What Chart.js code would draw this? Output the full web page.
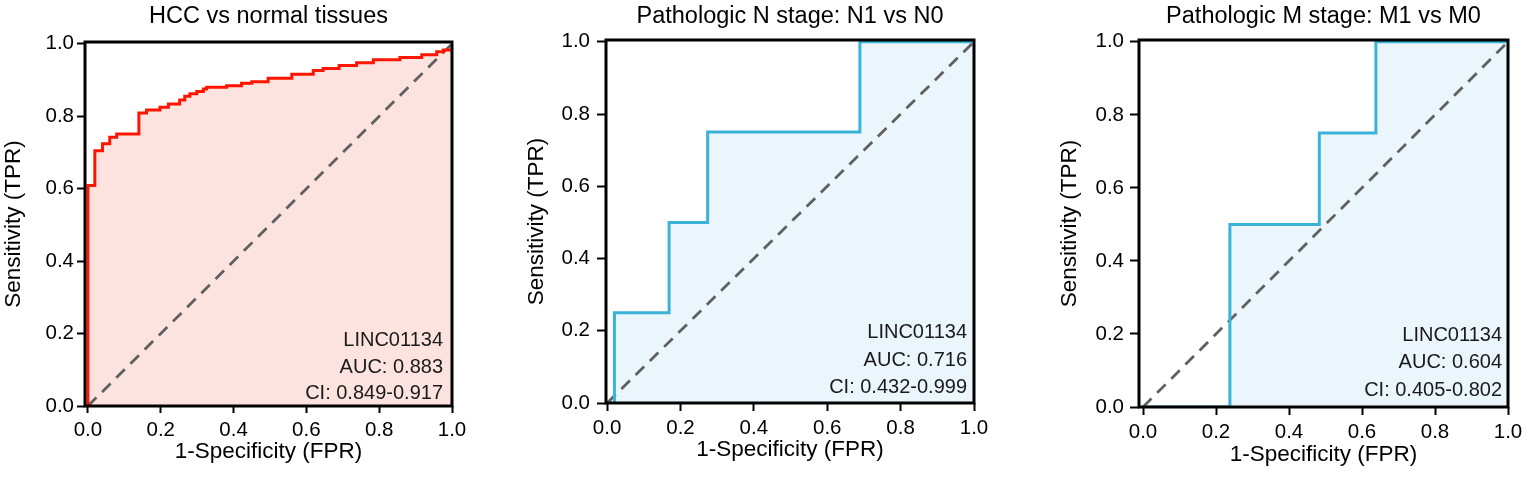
<!DOCTYPE html>
<html>
<head>
<meta charset="utf-8">
<script src="https://cdn.jsdelivr.net/npm/chart.js@4/dist/chart.umd.min.js"></script>
<style>
  body { margin: 0; background: #fff; }
  .box { position: absolute; top: 0; height: 480px; }
</style>
</head>
<body>
<div class="box" style="left:0px;width:474px"><canvas id="rocHcc"></canvas></div>
<div class="box" style="left:500px;width:500px"><canvas id="rocN"></canvas></div>
<div class="box" style="left:1020px;width:515px"><canvas id="rocM"></canvas></div>
<script>
// ROC points (1-specificity, sensitivity)
const hccFpr = [0, 0, 0.019, 0.040, 0.060, 0.079, 0.140, 0.161, 0.198, 0.221, 0.252, 0.266, 0.280, 0.299, 0.317, 0.326, 0.381, 0.422, 0.450, 0.495, 0.560, 0.619, 0.646, 0.690, 0.738, 0.784, 0.857, 0.917, 0.958, 0.976, 1.0];
const hccTpr = [0, 0.609, 0.705, 0.724, 0.742, 0.751, 0.809, 0.817, 0.825, 0.834, 0.845, 0.855, 0.862, 0.868, 0.875, 0.880, 0.884, 0.891, 0.895, 0.905, 0.916, 0.926, 0.932, 0.940, 0.948, 0.956, 0.962, 0.970, 0.978, 0.983, 0.983];

const nFpr = [0, 0.02, 0.169, 0.274, 0.689, 1.0];
const nTpr = [0, 0.25, 0.5, 0.75, 1.0, 1.0];

const mFpr = [0, 0.238, 0.483, 0.638, 1.0];
const mTpr = [0, 0.5, 0.75, 1.0, 1.0];

const diagX = [0, 1];
const diagY = [0, 1];

const tickVals = [0, 0.2, 0.4, 0.6, 0.8, 1.0];

const titles = ["HCC vs normal tissues", "Pathologic N stage: N1 vs N0", "Pathologic M stage: M1 vs M0"];
const xTitle = "1-Specificity (FPR)";
const yTitle = "Sensitivity (TPR)";
const geneName = "LINC01134";
const aucText = ["AUC: 0.883", "AUC: 0.716", "AUC: 0.604"];
const ciText = ["CI: 0.849-0.917", "CI: 0.432-0.999", "CI: 0.405-0.802"];

const FONT = "'Liberation Sans', Arial, sans-serif";

function toPoints(xs, ys) {
  return xs.map((x, i) => ({ x: x, y: ys[i] }));
}

// black box round the plot area, drawn over the curves like the original
const framePlugin = {
  id: 'frame',
  afterDatasetsDraw(chart) {
    const a = chart.chartArea;
    const ctx = chart.ctx;
    ctx.save();
    ctx.strokeStyle = '#000';
    ctx.lineWidth = 3;
    ctx.strokeRect(a.left, a.top, a.right - a.left, a.bottom - a.top);
    ctx.restore();
  }
};

// LINC01134 / AUC / CI text in lower right corner
const notePlugin = {
  id: 'note',
  afterDatasetsDraw(chart, args, opts) {
    const a = chart.chartArea;
    const ctx = chart.ctx;
    ctx.save();
    ctx.font = '20px ' + FONT;
    ctx.fillStyle = '#1a1a1a';
    ctx.textAlign = 'right';
    ctx.textBaseline = 'middle';
    opts.lines.forEach((t, i) => {
      ctx.fillText(t, a.right - opts.right, a.bottom - opts.offsets[i]);
    });
    ctx.restore();
  }
};

function makeRoc(id, idx, xs, ys, lineColor, fillColor, lay) {
  return new Chart(document.getElementById(id), {
    type: 'scatter',
    data: {
      datasets: [{
        data: toPoints(xs, ys),
        showLine: true,
        stepped: 'before',
        borderColor: lineColor,
        borderWidth: 3,
        backgroundColor: fillColor,
        fill: 'origin',
        pointRadius: 0
      }, {
        data: toPoints(diagX, diagY),
        showLine: true,
        borderColor: '#606060',
        borderWidth: 2.8,
        borderDash: [12, 8],
        pointRadius: 0,
        fill: false
      }]
    },
    options: {
      responsive: true,
      maintainAspectRatio: false,
      animation: false,
      layout: { padding: lay.padding },
      plugins: {
        legend: { display: false },
        tooltip: { enabled: false },
        filler: { drawTime: 'beforeDatasetsDraw' },
        title: {
          display: true,
          text: titles[idx],
          fullSize: false,
          color: '#000',
          font: { family: FONT, size: 23.5, weight: 'normal' },
          padding: { top: 2, bottom: lay.titleGap }
        },
        note: {
          lines: [geneName, aucText[idx], ciText[idx]],
          right: lay.noteRight,
          offsets: lay.noteOffsets
        }
      },
      scales: {
        x: {
          type: 'linear',
          min: lay.xMin,
          max: 1,
          afterBuildTicks: s => { s.ticks = tickVals.map(v => ({ value: v })); },
          afterFit: s => { s.height = lay.xHeight; },
          border: { display: false },
          grid: { drawOnChartArea: false, drawTicks: true, tickLength: lay.xTick, tickColor: '#000', tickWidth: 2 },
          ticks: {
            color: '#000',
            padding: 5,
            font: { family: FONT, size: 20.5 },
            callback: v => v.toFixed(1)
          },
          title: {
            display: true,
            text: xTitle,
            color: '#000',
            padding: 0,
            font: { family: FONT, size: 22.5 }
          }
        },
        y: {
          type: 'linear',
          min: 0,
          max: 1.005,
          afterBuildTicks: s => { s.ticks = tickVals.map(v => ({ value: v })); },
          afterFit: s => { s.width = lay.yWidth; },
          border: { display: false },
          grid: { drawOnChartArea: false, drawTicks: true, tickLength: lay.yTick, tickColor: '#000', tickWidth: 2 },
          ticks: {
            color: '#000',
            padding: lay.yPad,
            font: { family: FONT, size: 20.5 },
            callback: v => v.toFixed(1)
          },
          title: {
            display: true,
            text: yTitle,
            color: '#000',
            padding: 0,
            font: { family: FONT, size: 22.5 }
          }
        }
      }
    },
    plugins: [framePlugin, notePlugin]
  });
}

makeRoc('rocHcc', 0, hccFpr, hccTpr, '#ff1500', '#fde3e0', {
  padding: { left: 0, right: 22, top: 0, bottom: 15 },
  titleGap: 11.8, xHeight: 59, yWidth: 85, xMin: -0.008,
  xTick: 7, yTick: 8, yPad: 3,
  noteRight: 9, noteOffsets: [66, 39, 13]
});

makeRoc('rocN', 1, nFpr, nTpr, '#3bb3d8', '#eaf6fb', {
  padding: { left: 23, right: 26, top: 0, bottom: 17 },
  titleGap: 9.8, xHeight: 60, yWidth: 83, xMin: -0.003,
  xTick: 8, yTick: 9, yPad: 7,
  noteRight: 7, noteOffsets: [71, 43, 16]
});

makeRoc('rocM', 2, mFpr, mTpr, '#3bb3d8', '#eaf6fb', {
  padding: { left: 36, right: 27, top: 0, bottom: 12 },
  titleGap: 9.8, xHeight: 61, yWidth: 83, xMin: -0.011,
  xTick: 8, yTick: 9, yPad: 6,
  noteRight: 6, noteOffsets: [72, 45, 17]
});
</script>
</body>
</html>
